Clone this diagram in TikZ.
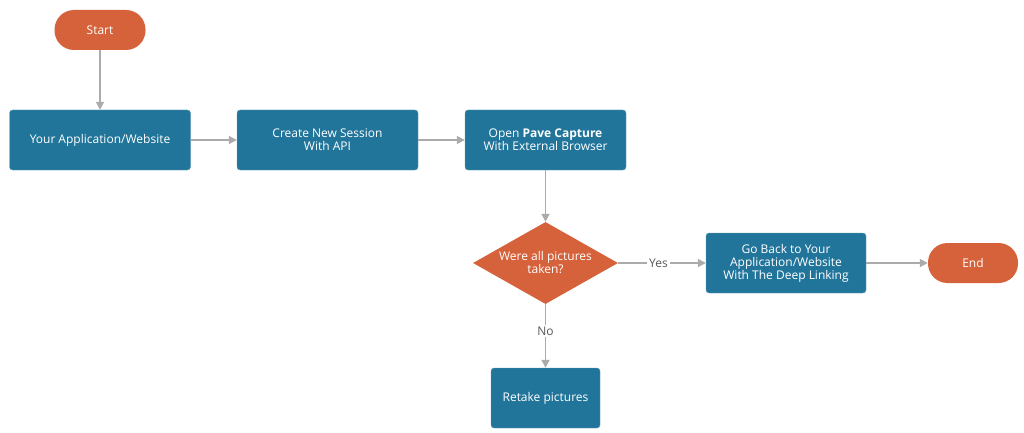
\documentclass[tikz,border=0pt]{standalone}
\usepackage{fontspec}
\setmainfont{Open Sans}
\usetikzlibrary{positioning, arrows.meta, shapes.geometric}
\definecolor{stepblue}{HTML}{22759A}
\definecolor{termorange}{HTML}{D5623A}
\definecolor{linegray}{HTML}{ABABAB}
\tikzset{
    terminal/.style={rectangle, rounded corners=19.5pt, fill=termorange, text=white,
        minimum width=91pt, minimum height=40pt, font=\fontsize{12}{13}\selectfont},
    process/.style={rectangle, rounded corners=3pt, fill=stepblue, draw=stepblue!70!white,
        text=white, minimum height=60pt, align=center, font=\fontsize{12}{13}\selectfont},
    decision/.style={diamond, fill=termorange, text=white, minimum width=145pt,
        minimum height=82pt, aspect=1.77, inner sep=0pt, align=center,
        font=\fontsize{12}{13}\selectfont},
    flow/.style={-{Triangle[length=8pt, width=8pt]}, draw=linegray, line width=1.7pt},
    answer/.style={fill=white, text=black!65, font=\fontsize{12}{13}\selectfont, inner sep=2pt}
}
\begin{document}
\begin{tikzpicture}[x=1pt, y=-1pt]
        \useasboundingbox (0,0) rectangle (1024,433);
        % Nodes
        \node[terminal] (start) at (100,30) {Start};
        \node[process, minimum width=181pt] (app) at (100,140) {Your Application/Website};
        \node[process, minimum width=181pt] (session) at (327.5,140) {Create New Session\\With API};
        \node[process, minimum width=161pt] (capture) at (545.5,140) {Open \textbf{Pave Capture}\\With External Browser};
        \node[decision] (check) at (545.5,263) {Were all pictures\\taken?};
        \node[process, minimum width=160pt] (back) at (786,263) {Go Back to Your\\Application/Website\\With The Deep Linking};
        \node[terminal, minimum width=90pt] (finish) at (973,263) {End};
        \node[process, minimum width=109pt] (retake) at (545.5,398) {Retake pictures};

        % Edges
        \draw[flow] (start) -- (app);
        \draw[flow] (app) -- (session);
        \draw[flow] (session) -- (capture);
        \draw[flow] (capture) -- (check);
        \draw[flow] (check) -- node[answer, pos=0.46] {Yes} (back);
        \draw[flow] (back) -- (finish);
        \draw[flow] (check) -- node[answer, pos=0.42] {No} (retake);
    \end{tikzpicture}
\end{document}
